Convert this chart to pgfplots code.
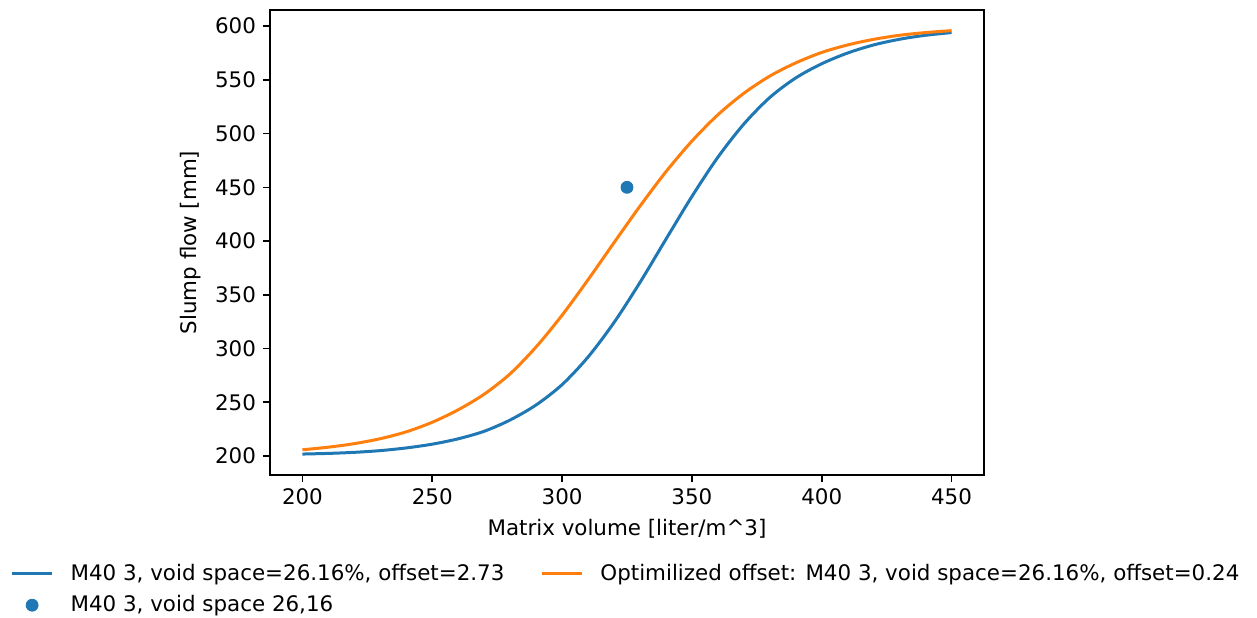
\documentclass[border=0pt]{standalone}
\usepackage{pgfplots}
\pgfplotsset{compat=1.18}
\usepackage{fontspec}
\setmainfont{DejaVu Sans}
\definecolor{c0}{HTML}{1F77B4}
\definecolor{c1}{HTML}{FF7F0E}
\begin{document}
\begin{tikzpicture}
\path[use as bounding box] (-135pt,-71pt) rectangle (493.5pt,237.5pt);
\begin{axis}[
  at={(0,0)}, anchor=south west,
  scale only axis, width=357pt, height=232.5pt,
  xmin=187.5, xmax=462.5, ymin=182.3, ymax=615,
  xtick={200,250,...,450}, ytick={200,250,...,600},
  tick align=outside, tick pos=left, major tick length=3.5pt,
  every tick/.style={black, line width=0.8pt},
  axis line style={line width=0.8pt},
  /pgf/number format/assume math mode=true,
  ticklabel style={font=\fontsize{10.7}{12.8}\selectfont},
  xlabel={Matrix volume [liter/m\textasciicircum 3]},
  ylabel={Slump flow [mm]},
  label style={font=\fontsize{10.7}{12.8}\selectfont},
  legend columns=2,
  legend cell align=left,
  legend image code/.code={\draw[mark repeat=2,mark phase=2,#1] plot coordinates {(0pt,0pt) (10pt,0pt) (20pt,0pt)};},
  legend style={at={(0.5,-0.174)}, anchor=north, draw=none, fill=none,
    font=\fontsize{10.7}{12.8}\selectfont, row sep=2pt,
    /tikz/every odd column/.append style={column sep=6.5pt},
    /tikz/every even column/.append style={column sep=16pt}},
]
\addplot[c0, line width=1.5pt, smooth] coordinates {
(200,201.8) (210,202.4) (220,203.4) (230,205) (240,207.5) (250,211) (260,216)
(270,223) (280,233.5) (290,247.5) (300,266.4) (310,292.1) (320,324.2) (330,361.5)
(340,401.7) (350,441.5) (360,478) (370,508.9) (380,533.6) (390,551.8) (400,565)
(410,575) (420,582.5) (430,587.8) (440,591.5) (450,594)
};
\addlegendentry{M40 3, void space=26.16\%, offset=2.73}
\addplot[c1, line width=1.5pt, smooth] coordinates {
(200,205.8) (210,208.2) (220,211.5) (230,216.1) (240,222.5) (250,231.4) (260,243)
(270,257.5) (280,276.5) (290,301.5) (300,331) (310,364) (320,398.5) (330,432.5)
(340,464.5) (350,493) (360,517.5) (370,537.5) (380,553.5) (390,565.8) (400,575.5)
(410,582.5) (420,587.7) (430,591.5) (440,594) (450,595.8)
};
\addlegendentry{Optimilized offset: M40 3, void space=26.16\%, offset=0.24}
\addplot[c0, only marks, mark=*, mark size=3pt, mark options={draw=c0, fill=c0}] coordinates {(325,450)};
\addlegendentry{M40 3, void space 26,16}
\end{axis}
\end{tikzpicture}
\end{document}
